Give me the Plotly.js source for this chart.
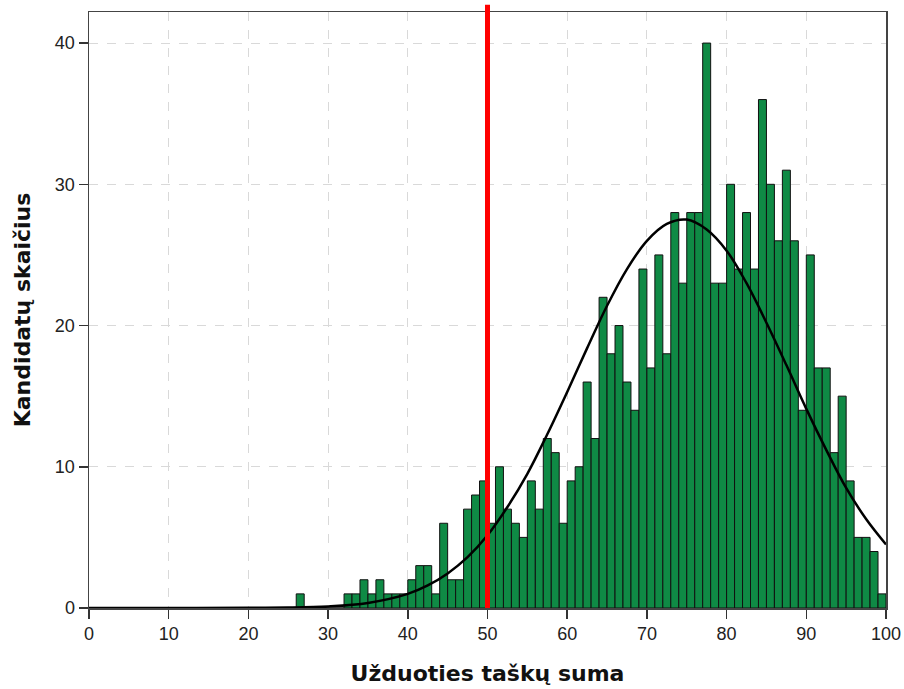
<!DOCTYPE html>
<html>
<head>
<meta charset="utf-8">
<script src="https://cdn.plot.ly/plotly-3.0.1.min.js"></script>
<style>
  html, body { margin: 0; padding: 0; background: #ffffff; }
  #chart { width: 904px; height: 689px; }
</style>
</head>
<body>
<div id="chart"></div>
<script>
// Counts per 1-point bin: bin i covers [i, i+1), i = 0..99
const binCounts = [
  0, 0, 0, 0, 0, 0, 0, 0, 0, 0,      // 0-9
  0, 0, 0, 0, 0, 0, 0, 0, 0, 0,      // 10-19
  0, 0, 0, 0, 0, 0, 1, 0, 0, 0,      // 20-29
  0, 0, 1, 1, 2, 1, 2, 1, 1, 1,      // 30-39
  2, 3, 3, 1, 6, 2, 2, 7, 8, 9,      // 40-49
  6, 10, 7, 6, 5, 9, 7, 12, 11, 6,   // 50-59
  9, 10, 16, 12, 22, 18, 20, 16, 14, 24, // 60-69
  17, 25, 18, 28, 23, 28, 28, 40, 23, 23, // 70-79
  30, 24, 28, 24, 36, 30, 26, 31, 26, 14, // 80-89
  25, 17, 17, 11, 15, 9, 5, 5, 4, 1      // 90-99
];
const binWidth = 1;

// Normal curve
const curveX = [0, 10, 20, 25, 30, 35, 40, 42.5, 45, 47.5, 50, 52.5, 55, 57.5, 60, 62.5, 65, 67.5, 70, 72.5, 75, 77.5, 80, 82.5, 85, 87.5, 90, 92.5, 95, 97.5, 100];
const curveY = [0, 0, 0.02, 0.03, 0.11, 0.36, 1.0, 1.6, 2.45, 3.6, 5.15, 7.15, 9.5, 12.3, 15.3, 18.4, 21.4, 24.0, 26.0, 27.2, 27.5, 26.8, 25.3, 23.0, 20.2, 17.2, 14.1, 11.2, 8.5, 6.3, 4.5];

const cutoffScore = 50;

const xTicks = [0, 10, 20, 30, 40, 50, 60, 70, 80, 90, 100];
const yTicks = [0, 10, 20, 30, 40];

const xTitle = 'Užduoties taškų suma';
const yTitle = 'Kandidatų skaičius';

const binCenters = binCounts.map((_, i) => i * binWidth + binWidth / 2);

const bars = {
  type: 'bar',
  x: binCenters,
  y: binCounts,
  width: binWidth,
  marker: { color: '#0f8a45', line: { color: '#111111', width: 1 } },
  hoverinfo: 'x+y',
  showlegend: false
};

const curve = {
  type: 'scatter',
  mode: 'lines',
  x: curveX,
  y: curveY,
  line: { color: '#000000', width: 2.5, shape: 'spline', smoothing: 1 },
  hoverinfo: 'skip',
  showlegend: false
};

const tickFont = { family: 'Liberation Sans, Arial, sans-serif', size: 18, color: '#222222' };
const titleFont = { family: 'DejaVu Sans, Verdana, sans-serif', size: 22, color: '#111111', weight: 'bold' };

const layout = {
  width: 904,
  height: 689,
  margin: { l: 89, r: 18, t: 12, b: 81 },
  paper_bgcolor: '#ffffff',
  plot_bgcolor: '#ffffff',
  bargap: 0,
  xaxis: {
    range: [0, 100],
    tickvals: xTicks,
    ticks: 'outside',
    ticklen: 9,
    tickwidth: 1.5,
    tickcolor: '#333333',
    tickfont: tickFont,
    showline: true,
    linecolor: '#444444',
    linewidth: 1.5,
    mirror: true,
    showgrid: true,
    gridcolor: '#d9d9d9',
    griddash: 'dash',
    gridwidth: 1,
    zeroline: false,
    title: { text: xTitle, font: titleFont, standoff: 22 }
  },
  yaxis: {
    range: [0, 42.2],
    tickvals: yTicks,
    ticks: 'outside',
    ticklen: 9,
    tickwidth: 1.5,
    tickcolor: '#333333',
    tickfont: tickFont,
    showline: true,
    linecolor: '#444444',
    linewidth: 1.5,
    mirror: true,
    showgrid: true,
    gridcolor: '#d9d9d9',
    griddash: 'dash',
    gridwidth: 1,
    zeroline: false,
    title: { text: yTitle, font: titleFont, standoff: 18 }
  },
  shapes: [{
    type: 'line',
    xref: 'x', yref: 'paper',
    x0: cutoffScore, x1: cutoffScore,
    y0: 0, y1: 1.012,
    line: { color: '#ff0000', width: 5 },
    layer: 'above'
  }]
};

Plotly.newPlot('chart', [bars, curve], layout, { displayModeBar: false, staticPlot: true });
</script>
</body>
</html>
